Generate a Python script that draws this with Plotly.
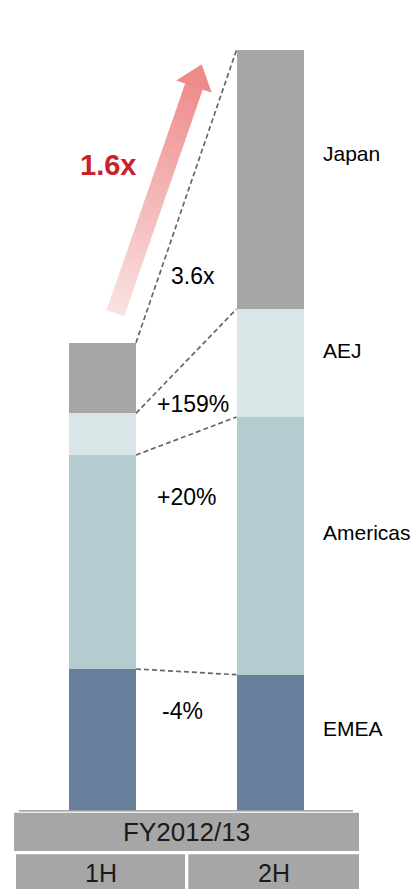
import math
import plotly.graph_objects as go

W, H = 412, 889

# ---- data (relative sales) ----
periods = ["1H", "2H"]
emea = [141.5, 135.8]
americas = [214.0, 257.7]
aej = [41.7, 108.0]
japan = [70.6, 259.0]
region_names = ["EMEA", "Americas", "AEJ", "Japan"]
change_labels = ["-4%", "+20%", "+159%", "3.6x"]
total_label = "1.6x"
header_title = "FY2012/13"

series = [emea, americas, aej, japan]
colors = ["#677f9b", "#b4ccd0", "#dae5e7", "#a6a6a6"]

# ---- layout geometry (pixels) ----
BASE_PX = 810.5
X_LEFT_PX, X_RIGHT_PX = 14, 359
C0_PX, STEP_PX = 102.5, 167.5
BAR_W = 0.4


def px(x):
    return x / W


def py(y):
    return 1 - y / H


fig = go.Figure()
xs = list(range(len(periods)))
for name, vals, col in zip(region_names, series, colors):
    fig.add_trace(go.Bar(x=xs, y=vals, name=name, marker=dict(color=col, line=dict(width=0)),
                         width=BAR_W, hoverinfo="skip"))

shapes = []
# dashed connectors between segment tops
cum = [0.0, 0.0]
for vals in series:
    cum = [cum[i] + vals[i] for i in range(2)]
    shapes.append(dict(type="line", xref="x", yref="y", x0=xs[0] + BAR_W / 2, x1=xs[1] - BAR_W / 2,
                       y0=cum[0], y1=cum[1], line=dict(color="#666666", width=1.7, dash="5px,3px"), layer="above"))

# baseline
shapes.append(dict(type="line", xref="paper", yref="paper", x0=px(19), x1=px(353), y0=py(810.8), y1=py(810.8),
                   line=dict(color="#8c8c8c", width=1.2)))

# header boxes
hdr_fill = "#a6a6a6"
shapes.append(dict(type="rect", xref="paper", yref="paper", x0=px(14), x1=px(359), y0=py(851), y1=py(812.7),
                   fillcolor=hdr_fill, line=dict(width=0)))
shapes.append(dict(type="rect", xref="paper", yref="paper", x0=px(16), x1=px(185), y0=py(889), y1=py(854.3),
                   fillcolor=hdr_fill, line=dict(width=0)))
shapes.append(dict(type="rect", xref="paper", yref="paper", x0=px(188.3), x1=px(359), y0=py(889), y1=py(854.3),
                   fillcolor=hdr_fill, line=dict(width=0)))

# gradient arrow (pixel geometry)
tx, ty = 115.3, 313.3
tipx, tipy = 201.7, 64.3
L = math.hypot(tipx - tx, tipy - ty)
ux, uy = (tipx - tx) / L, (tipy - ty) / L
nx, ny = -uy, ux
shaft_hw, head_hw, head_len = 9.3, 18.8, 23.6
c_tail = (249, 226, 226)
c_tip = (238, 134, 134)


def lerp_col(t):
    return "rgb(%d,%d,%d)" % tuple(round(a + (b - a) * t) for a, b in zip(c_tail, c_tip))


N = 48
shaft_len = L - head_len
for i in range(N):
    a = shaft_len * i / N
    b = shaft_len * (i + 1) / N + 0.8
    pts = [
        (tx + ux * a + nx * shaft_hw, ty + uy * a + ny * shaft_hw),
        (tx + ux * b + nx * shaft_hw, ty + uy * b + ny * shaft_hw),
        (tx + ux * b - nx * shaft_hw, ty + uy * b - ny * shaft_hw),
        (tx + ux * a - nx * shaft_hw, ty + uy * a - ny * shaft_hw),
    ]
    path = "M " + " L ".join("%.4f,%.4f" % (px(p[0]), py(p[1])) for p in pts) + " Z"
    shapes.append(dict(type="path", xref="paper", yref="paper", path=path,
                       fillcolor=lerp_col((a + b) / 2 / L), line=dict(width=0), layer="above"))
hb = shaft_len
head_pts = [
    (tx + ux * hb + nx * head_hw, ty + uy * hb + ny * head_hw),
    (tipx, tipy),
    (tx + ux * hb - nx * head_hw, ty + uy * hb - ny * head_hw),
]
shapes.append(dict(type="path", xref="paper", yref="paper",
                   path="M " + " L ".join("%.4f,%.4f" % (px(p[0]), py(p[1])) for p in head_pts) + " Z",
                   fillcolor=lerp_col(0.96), line=dict(width=0), layer="above"))

FONT = "Liberation Sans, Arial, sans-serif"
ann = []
# change labels
change_pos = [(182.5, 710.8), (186.7, 496.7), (192.5, 404.0), (193.0, 275.7)]
for txt, (x, y) in zip(change_labels, change_pos):
    ann.append(dict(text=txt, x=px(x), y=py(y), xref="paper", yref="paper", showarrow=False,
                    xanchor="center", yanchor="middle", font=dict(family=FONT, size=23, color="#000000")))
# region labels
region_pos = [(321, 728.3), (321, 532.5), (321, 350.3), (321, 153.5)]
for txt, (x, y) in zip(region_names, region_pos):
    ann.append(dict(text=txt, x=px(x), y=py(y), xref="paper", yref="paper", showarrow=False,
                    xanchor="left", yanchor="middle", font=dict(family=FONT, size=21, color="#000000")))
# growth label
ann.append(dict(text="<b>%s</b>" % total_label, x=px(107.7), y=py(165), xref="paper", yref="paper",
                showarrow=False, xanchor="center", yanchor="middle",
                font=dict(family=FONT, size=29, color="#c8212b")))
# header labels
ann.append(dict(text=header_title, x=px(186.5), y=py(832), xref="paper", yref="paper", showarrow=False,
                xanchor="center", yanchor="middle", font=dict(family=FONT, size=26, color="#1a1a1a")))
for txt, cx in zip(periods, [100.5, 273.5]):
    ann.append(dict(text=txt, x=px(cx), y=py(872.5), xref="paper", yref="paper", showarrow=False,
                    xanchor="center", yanchor="middle", font=dict(family=FONT, size=25, color="#1a1a1a")))

x_lo = (X_LEFT_PX - C0_PX) / STEP_PX
x_hi = (X_RIGHT_PX - C0_PX) / STEP_PX

fig.update_layout(
    width=W, height=H, margin=dict(l=0, r=0, t=0, b=0),
    paper_bgcolor="white", plot_bgcolor="white",
    barmode="stack", bargap=0, showlegend=False,
    xaxis=dict(domain=[px(X_LEFT_PX), px(X_RIGHT_PX)], range=[x_lo, x_hi], visible=False, fixedrange=True),
    yaxis=dict(domain=[py(BASE_PX), 1], range=[0, BASE_PX], visible=False, fixedrange=True),
    shapes=shapes, annotations=ann,
)

fig.write_html("out.html")
